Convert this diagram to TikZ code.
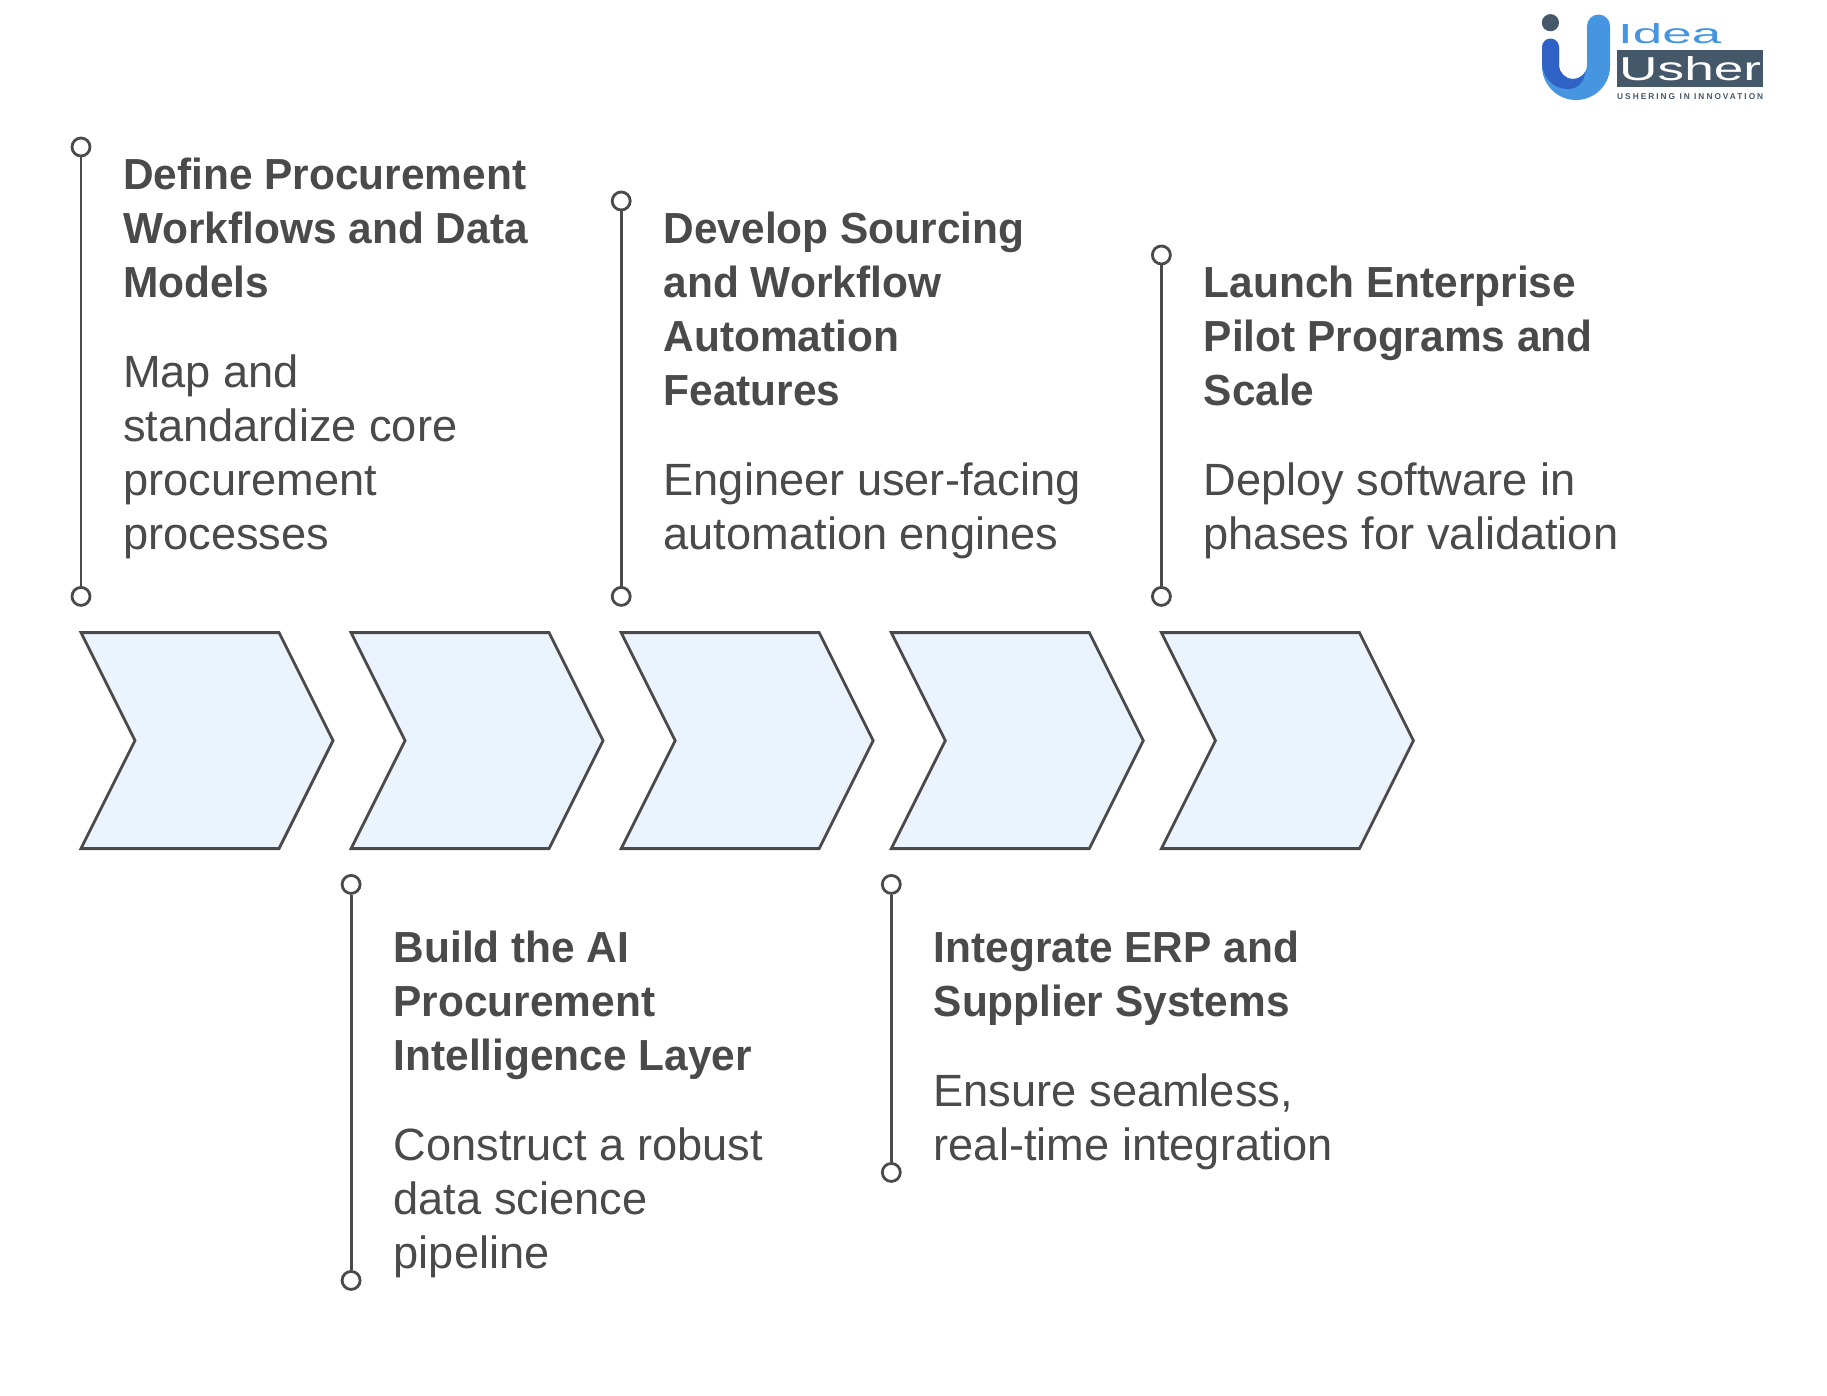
\documentclass[tikz,border=0pt]{standalone}
\usepackage{fontspec}
\setmainfont[BoldFeatures={FakeStretch=0.975}]{Liberation Sans}
\definecolor{ink}{HTML}{4A4A4A}
\definecolor{line}{HTML}{4A4A4A}
\definecolor{chev}{HTML}{EBF3FE}
\definecolor{lblue}{HTML}{4595E0}
\definecolor{dblue}{HTML}{2F62C4}
\definecolor{slate}{HTML}{44586A}
\tikzset{
  pin/.style={circle,draw=line,fill=white,line width=2.8pt,minimum size=18pt,inner sep=0pt},
  stem/.style={draw=line,line width=2.9pt},
  chevron/.style={draw=line,fill=chev,line width=2.8pt,line join=miter},
  titletext/.style={anchor=north west,inner sep=0pt,align=left,text=ink,font=\fontsize{43.5}{54}\bfseries\selectfont},
  bodytext/.style={anchor=north west,inner sep=0pt,align=left,text=ink,font=\fontsize{45.2}{54}\selectfont},
}
\newcommand{\fl}{\rule{0pt}{40pt}}
\newcommand{\chevronat}[1]{\draw[chevron] (#1,632.6) -- ++(198,0) -- ++(54,108) -- ++(-54,108) -- ++(-198,0) -- ++(54,-108) -- cycle;}
\begin{document}
\begin{tikzpicture}[x=1pt,y=-1pt]
\useasboundingbox (0,0) rectangle (1827,1395);
\fill[white] (0,0) rectangle (1827,1395);
% chevrons
\chevronat{81}
\chevronat{351.1}
\chevronat{621.2}
\chevronat{891.3}
\chevronat{1161.4}
% pins and stems
\node[pin] (a1) at (81,147) {};
\node[pin] (a2) at (81,596.4) {};
\draw[stem] (a1) -- (a2);
\node[pin] (b1) at (351.1,884.4) {};
\node[pin] (b2) at (351.1,1280.4) {};
\draw[stem] (b1) -- (b2);
\node[pin] (c1) at (621.2,201) {};
\node[pin] (c2) at (621.2,596.4) {};
\draw[stem] (c1) -- (c2);
\node[pin] (d1) at (891.3,884.4) {};
\node[pin] (d2) at (891.3,1172.4) {};
\draw[stem] (d1) -- (d2);
\node[pin] (e1) at (1161.4,255) {};
\node[pin] (e2) at (1161.4,596.4) {};
\draw[stem] (e1) -- (e2);
% texts
\node[titletext] (t1) at (123,149) {\fl Define Procurement\\Workflows and Data\\Models};
\node[bodytext] (s1) at (123,347) {\fl Map and\\standardize core\\procurement\\processes};
\node[titletext] (t2) at (393.5,922) {\fl Build the AI\\Procurement\\Intelligence Layer};
\node[bodytext] (s2) at (393.5,1120) {\fl Construct a robust\\data science\\pipeline};
\node[titletext] (t3) at (663.5,203) {\fl Develop Sourcing\\and Workflow\\Automation\\Features};
\node[bodytext] (s3) at (663.5,455) {\fl Engineer user-facing\\automation engines};
\node[titletext] (t4) at (933.5,922) {\fl Integrate ERP and\\Supplier Systems};
\node[bodytext] (s4) at (933.5,1066) {\fl Ensure seamless,\\real-time integration};
\node[titletext] (t5) at (1203.5,257) {\fl Launch Enterprise\\Pilot Programs and\\Scale};
\node[bodytext] (s5) at (1203.5,455) {\fl Deploy software in\\phases for validation};
% logo
\fill[lblue] (1587,26) arc[start angle=180,end angle=360,radius=11.5] -- (1610,66) arc[start angle=0,end angle=180,radius=34] -- (1542,47) -- (1559,47) -- (1559,65) arc[start angle=180,end angle=0,radius=14] -- cycle;
\fill[dblue] (1542,47) arc[start angle=180,end angle=360,radius=8.5] -- (1559,65) arc[start angle=180,end angle=30,radius=14] .. controls (1584,82) and (1578,89) .. (1568,89) .. controls (1552,89) and (1542,76) .. (1542,62) -- cycle;
\fill[slate] (1550.4,22.7) circle[radius=8.6];
\node[anchor=south west,inner sep=0pt,text=lblue] (logoa) at (1618,44) {\resizebox{103pt}{20pt}{Idea}};
\fill[slate] (1617,50) rectangle (1763,87);
\node[anchor=base west,inner sep=0pt,text=white] (logob) at (1619,80) {\resizebox{142pt}{24pt}{Usher}};
\node[anchor=base west,inner sep=0pt,text=slate] (logoc) at (1617,99) {\resizebox{146pt}{!}{\fontsize{8}{10}\selectfont\bfseries\addfontfeature{LetterSpace=24}USHERING IN INNOVATION}};
\end{tikzpicture}
\end{document}
